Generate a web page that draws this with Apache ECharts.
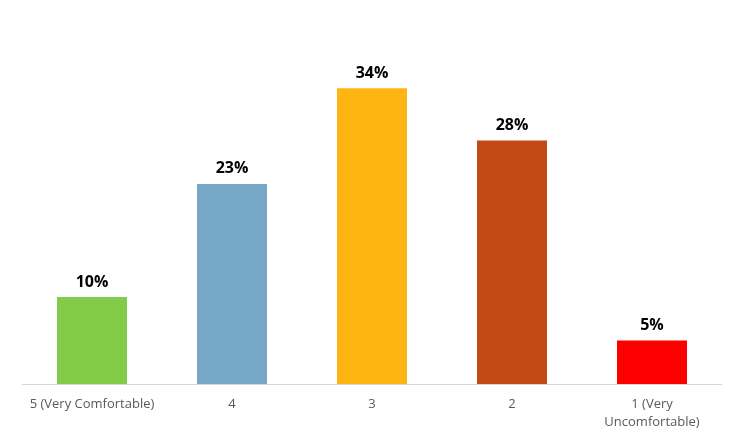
<!DOCTYPE html>
<html><head><meta charset="utf-8">
<script src="https://cdn.jsdelivr.net/npm/echarts@6/dist/echarts.min.js"></script>
<style>html,body{margin:0;padding:0;background:#fff}#c{width:746px;height:448px}</style>
</head><body><div id="c"></div>
<script>
const categories = ['5 (Very Comfortable)', '4', '3', '2', '1 (Very\nUncomfortable)'];
const values = [10, 23, 34, 28, 5];
const barColors = ['#83CC4A', '#77A7C6', '#FFB511', '#C44A15', '#FF0000'];

const chart = echarts.init(document.getElementById('c'), null, {renderer: 'canvas'});
chart.setOption({
  animation: false,
  grid: {left: 22, right: 24, top: 36, bottom: 64, containLabel: false},
  xAxis: {
    type: 'category', data: categories,
    axisLine: {lineStyle: {color: '#D9D9D9', width: 1}},
    axisTick: {show: false},
    axisLabel: {color: '#595959', fontSize: 13, fontFamily: 'Open Sans', margin: 11, lineHeight: 18, interval: 0}
  },
  yAxis: {type: 'value', min: 0, max: 40, show: false, splitLine: {show: false}},
  series: [{
    type: 'bar', barWidth: '50%',
    data: values.map((v, i) => ({value: v, itemStyle: {color: barColors[i]}})),
    label: {show: true, position: 'top', distance: 7, formatter: '{c}%', fontWeight: 'bold', fontSize: 16, color: '#000', fontFamily: 'Open Sans'}
  }]
});
</script></body></html>
